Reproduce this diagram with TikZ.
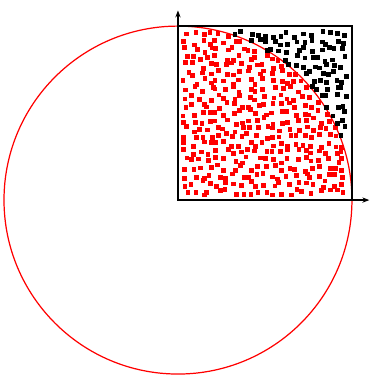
\documentclass[tikz,border=0pt]{standalone}
\usepackage{tikz}
\usetikzlibrary{arrows.meta}

\begin{document}
\begin{tikzpicture}[
                    x=4cm, y=4cm,
                    hit/.style={fill=red, rectangle, inner sep=0pt, minimum size=0.11cm},
                    miss/.style={fill=black, rectangle, inner sep=0pt, minimum size=0.11cm},
                    axis/.style={thick, -{Stealth[length=1.6mm, width=1.2mm]}},
                    disc/.style={red, line width=0.8pt}
                ]
                \useasboundingbox (-1.023,-1.017) rectangle (1.138,1.150);
                \coordinate (o) at (0,0);
                \coordinate (xend) at (1.10,0);
                \coordinate (yend) at (0,1.09);
                \draw[disc] (o) circle (1);
                % jittered sample points in the unit square
                \pgfmathsetseed{4271}
                \foreach \i in {0,...,20}{
                    \foreach \j in {0,...,20}{
                        \pgfmathsetmacro\px{0.025+0.95*(\i+0.5+0.42*rand)/21}
                        \pgfmathsetmacro\py{0.025+0.95*(\j+0.5+0.42*rand)/21}
                        \pgfmathtruncatemacro\inside{(\px*\px+\py*\py<1) ? 1 : 0}
                        \ifnum\inside=1
                            \node[hit] (p\i-\j) at (\px,\py) {};
                        \else
                            \node[miss] (p\i-\j) at (\px,\py) {};
                        \fi
                    }
                }
                \draw[line width=1pt] (o) rectangle (1,1);
                \draw[axis] (o) -- (xend);
                \draw[axis] (o) -- (yend);
            \end{tikzpicture}
\end{document}
